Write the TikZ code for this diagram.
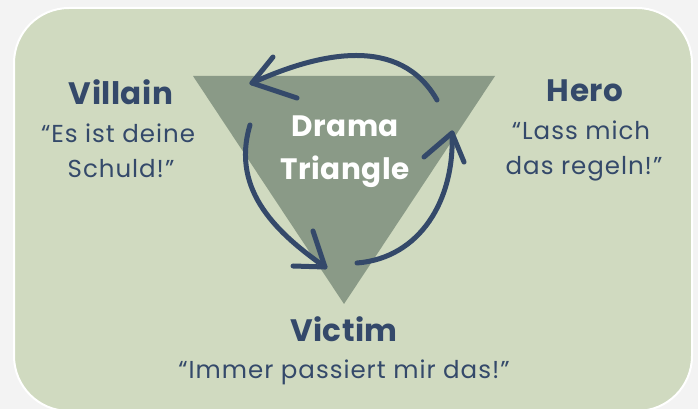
\documentclass[tikz,border=0pt]{standalone}
\usepackage{fontspec}
\setmainfont{Poppins}
\definecolor{pagebg}{RGB}{243,243,243}
\definecolor{panel}{RGB}{208,218,192}
\definecolor{tri}{RGB}{138,154,135}
\definecolor{navy}{RGB}{52,73,106}
\begin{document}
\begin{tikzpicture}[x=1pt,y=1pt,
  title/.style={font=\fontsize{31}{36}\selectfont\bfseries\addfontfeatures{LetterSpace=1.6}, text=navy, anchor=base, inner sep=0pt},
  quote/.style={font=\fontsize{24.5}{28}\selectfont\addfontfeatures{LetterSpace=4}, text=navy, anchor=base, inner sep=0pt},
  centertext/.style={font=\fontsize{29.5}{32}\selectfont\bfseries\addfontfeatures{LetterSpace=2}, text=white, anchor=base, inner sep=0pt},
  cyc/.style={draw=navy, line width=5pt, line cap=round, line join=round}]
\fill[pagebg] (0,0) rectangle (698,409);
\useasboundingbox (0,0) rectangle (698,409);
\draw[white, line width=2pt, fill=panel, rounded corners=55pt] (14,-2) rectangle (692,401);
\fill[tri] (193,333) -- (495,333) -- (344,105) -- cycle;
% cycle arrows
\coordinate (topS) at (437,309);
\coordinate (topT) at (252,326);
\coordinate (leftS) at (250,284);
\coordinate (leftT) at (325,142);
\coordinate (rightS) at (357,146);
\coordinate (rightT) at (452,276);
\draw[cyc] (topS) .. controls (400,374) and (320,357) .. (topT);
\draw[cyc] (273,352) -- (topT) -- (297,311);
\draw[cyc] (leftS) .. controls (230,217) and (280,174) .. (leftT);
\draw[cyc] (313,178) -- (leftT) -- (293,143);
\draw[cyc] (rightS) .. controls (420,151) and (455,209) .. (rightT);
\draw[cyc] (424,252) -- (rightT) -- (464,247);
% texts
\node[centertext] (drama) at (345,272) {Drama};
\node[centertext] (triangle) at (345,229) {Triangle};
\node[title] (villain) at (121,304) {Villain};
\node[quote] (villainA) at (118,266) {“Es ist deine};
\node[quote] (villainB) at (121,231) {Schuld!”};
\node[title] (hero) at (585,307) {Hero};
\node[quote] (heroA) at (581,269) {“Lass mich};
\node[quote] (heroB) at (584,234) {das regeln!”};
\node[title] (victim) at (344,67) {Victim};
\node[quote] (victimA) at (344,30) {“Immer passiert mir das!”};
\end{tikzpicture}
\end{document}
